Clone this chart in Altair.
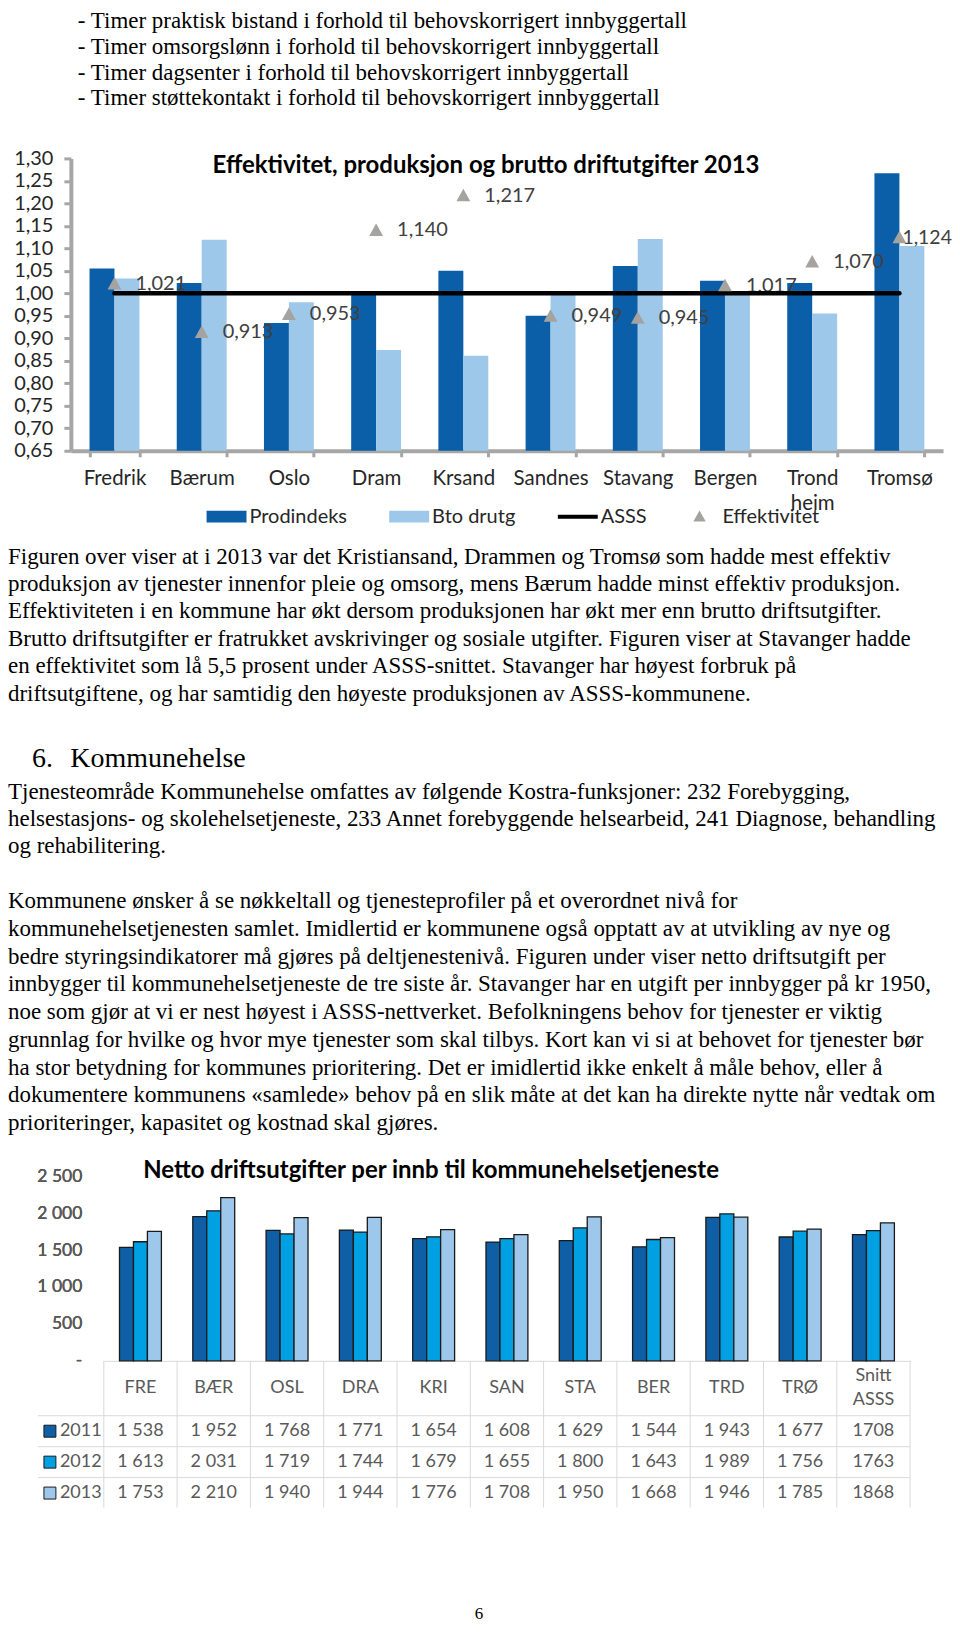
import altair as alt
import pandas as pd

# ---------------- text content ----------------
bullet_lines = [
    "- Timer praktisk bistand i forhold til behovskorrigert innbyggertall",
    "- Timer omsorgslønn i forhold til behovskorrigert innbyggertall",
    "- Timer dagsenter i forhold til behovskorrigert innbyggertall",
    "- Timer støttekontakt i forhold til behovskorrigert innbyggertall",
]
para1_lines = [
    "Figuren over viser at i 2013 var det Kristiansand, Drammen og Tromsø som hadde mest effektiv",
    "produksjon av tjenester innenfor pleie og omsorg, mens Bærum hadde minst effektiv produksjon.",
    "Effektiviteten i en kommune har økt dersom produksjonen har økt mer enn brutto driftsutgifter.",
    "Brutto driftsutgifter er fratrukket avskrivinger og sosiale utgifter. Figuren viser at Stavanger hadde",
    "en effektivitet som lå 5,5 prosent under ASSS-snittet. Stavanger har høyest forbruk på",
    "driftsutgiftene, og har samtidig den høyeste produksjonen av ASSS-kommunene.",
]
heading_num = "6."
heading_text = "Kommunehelse"
para2_lines = [
    "Tjenesteområde Kommunehelse omfattes av følgende Kostra-funksjoner: 232 Forebygging,",
    "helsestasjons- og skolehelsetjeneste, 233 Annet forebyggende helsearbeid, 241 Diagnose, behandling",
    "og rehabilitering.",
]
para3_lines = [
    "Kommunene ønsker å se nøkkeltall og tjenesteprofiler på et overordnet nivå for",
    "kommunehelsetjenesten samlet. Imidlertid er kommunene også opptatt av at utvikling av nye og",
    "bedre styringsindikatorer må gjøres på deltjenestenivå. Figuren under viser netto driftsutgift per",
    "innbygger til kommunehelsetjeneste de tre siste år. Stavanger har en utgift per innbygger på kr 1950,",
    "noe som gjør at vi er nest høyest i ASSS-nettverket. Befolkningens behov for tjenester er viktig",
    "grunnlag for hvilke og hvor mye tjenester som skal tilbys. Kort kan vi si at behovet for tjenester bør",
    "ha stor betydning for kommunes prioritering. Det er imidlertid ikke enkelt å måle behov, eller å",
    "dokumentere kommunens «samlede» behov på en slik måte at det kan ha direkte nytte når vedtak om",
    "prioriteringer, kapasitet og kostnad skal gjøres.",
]
page_number = "6"

# ---------------- chart 1 data ----------------
chart1_title = "Effektivitet, produksjon og brutto driftutgifter 2013"
cities = ["Fredrik", "Bærum", "Oslo", "Dram", "Krsand", "Sandnes", "Stavang",
          "Bergen", "Trond heim", "Tromsø"]
prodindeks = [1.055, 1.023, 0.934, 0.997, 1.050, 0.950, 1.061, 1.028, 1.023, 1.267]
bto_drutg = [1.033, 1.119, 0.980, 0.874, 0.861, 0.997, 1.121, 0.998, 0.955, 1.105]
effektivitet = [1.021, 0.913, 0.953, 1.140, 1.217, 0.949, 0.945, 1.017, 1.070, 1.124]
asss = [1.00, 1.00, 1.00, 1.00, 1.00, 1.00, 1.00, 1.00, 1.00, 1.00]
chart1_y_ticks = [0.65, 0.70, 0.75, 0.80, 0.85, 0.90, 0.95, 1.00,
                  1.05, 1.10, 1.15, 1.20, 1.25, 1.30]
series1 = ["Prodindeks", "Bto drutg", "ASSS", "Effektivitet"]
series1_colors = ["#0b5ea8", "#9dc8ea", "#000000", "#a5a39f"]

# ---------------- chart 2 data ----------------
chart2_title = "Netto driftsutgifter per innb til kommunehelsetjeneste"
kommuner = ["FRE", "BÆR", "OSL", "DRA", "KRI", "SAN", "STA", "BER", "TRD", "TRØ", "Snitt ASSS"]
years = ["2011", "2012", "2013"]
v2011 = [1538, 1952, 1768, 1771, 1654, 1608, 1629, 1544, 1943, 1677, 1708]
v2012 = [1613, 2031, 1719, 1744, 1679, 1655, 1800, 1643, 1989, 1756, 1763]
v2013 = [1753, 2210, 1940, 1944, 1776, 1708, 1950, 1668, 1946, 1785, 1868]
chart2_y_ticks = [0, 500, 1000, 1500, 2000, 2500]
year_colors = ["#0f5fa6", "#00a0e2", "#9dc8eb"]

W = 944
one = alt.Data(values=[{"k": 0}])


def text_block(text, x, y, size, lh=27.0, font="Liberation Serif",
               weight="normal", align="left", color="#000000"):
    return alt.Chart(one).mark_text(
        text=text, align=align, baseline="alphabetic", font=font,
        fontSize=size, fontWeight=weight, lineHeight=lh, color=color
    ).encode(x=alt.value(x), y=alt.value(y))


# ---------------- panel A: bullets ----------------
panelA = alt.layer(
    text_block(bullet_lines, 70, 18.5, 23, lh=25.8)
).properties(width=W, height=112)

# ---------------- panel B: chart 1 ----------------
bars1_df = pd.DataFrame({"city": cities, "prod": prodindeks, "bto": bto_drutg})
eff_df = pd.DataFrame({"city": cities, "series": ["Effektivitet"] * len(cities),
                       "eff": effektivitet})
asss_df = pd.DataFrame({"city": cities, "asss": asss})

x1_scale = alt.Scale(domain=cities, range=[63, 937], paddingInner=0.428, paddingOuter=0.214)
y1_scale = alt.Scale(domain=[0.65, 1.30], range=[330, 37], zero=False, nice=False)
x1_axis = alt.Axis(orient="bottom", offset=-80, domainColor="#a6a6a6", domainWidth=4,
                   tickColor="#a6a6a6", tickWidth=3, tickSize=6, tickBand="extent",
                   labelPadding=12, labelBaseline="top", labelAngle=0, labelOverlap=False,
                   labelFont="Lato", labelFontSize=20.5, labelColor="#262626",
                   labelExpr="split(datum.label, ' ')", labelLineHeight=25, grid=False)
y1_axis = alt.Axis(orient="left", offset=-63, values=chart1_y_ticks, domainColor="#a6a6a6",
                   domainWidth=4, tickColor="#a6a6a6", tickWidth=3, tickSize=7,
                   labelPadding=11, labelFont="Lato", labelFontSize=20, labelColor="#262626",
                   labelExpr="replace(format(datum.value, '.2f'), '.', ',')", grid=False)


def X1():
    return alt.X("city:N", scale=x1_scale, axis=x1_axis, title=None)


def Y1(field):
    return alt.Y(field, scale=y1_scale, axis=y1_axis, title=None)


bars_prod = alt.Chart(bars1_df).mark_bar(width=25, xOffset=-12.5, color=series1_colors[0]).encode(
    x=X1(), y=Y1("prod:Q"), y2=alt.datum(0.65))
bars_bto = alt.Chart(bars1_df).mark_bar(width=25, xOffset=12.5, color=series1_colors[1]).encode(
    x=X1(), y=Y1("bto:Q"), y2=alt.datum(0.65))

lab_expr = "replace(format(datum.eff, '.3f'), '.', ',')"
labels1 = alt.Chart(eff_df).transform_filter(
    "datum.city != 'Tromsø'"
).transform_calculate(lab=lab_expr).mark_text(
    align="left", baseline="middle", dx=21, font="Lato", fontSize=20, color="#404040"
).encode(x=X1(), y=Y1("eff:Q"), text="lab:N")
labels1_last = alt.Chart(eff_df).transform_filter(
    "datum.city == 'Tromsø'"
).transform_calculate(lab=lab_expr).mark_text(
    align="left", baseline="middle", dx=3, font="Lato", fontSize=19.5, color="#404040"
).encode(x=X1(), y=Y1("eff:Q"), text="lab:N")
line1 = alt.Chart(asss_df).mark_line(color="#000000", strokeWidth=4.5, strokeCap="round").encode(
    x=X1(), y=Y1("asss:Q"))

rect_path = "M-2,-0.6H2V0.6H-2Z"
line_path = "M-2,-0.2H2V0.2H-2Z"
tri_path = "M0,-0.62L0.62,0.5L-0.62,0.5Z"
leg1 = alt.Legend(orient="none", legendX=209, legendY=386, direction="horizontal", columns=4,
                  columnPadding=42, labelOffset=13, symbolSize=400, symbolStrokeWidth=0,
                  padding=0, title=None, labelFont="Lato", labelFontSize=20,
                  labelColor="#262626", symbolOpacity=1)
points1 = alt.Chart(eff_df).mark_point(filled=True, size=500, opacity=1).encode(
    x=X1(), y=Y1("eff:Q"),
    color=alt.Color("series:N", scale=alt.Scale(domain=series1, range=series1_colors), legend=leg1),
    shape=alt.Shape("series:N", scale=alt.Scale(domain=series1,
                                                range=[rect_path, rect_path, line_path, tri_path]),
                    legend=leg1),
)
title1 = text_block(chart1_title, 479, 51.7, 24, font="Lato", weight="bold", align="center")

panelB = alt.layer(bars_prod, bars_bto, labels1, labels1_last, line1, points1, title1).properties(
    width=W, height=410)

# ---------------- panel C: text ----------------
panelC = alt.layer(
    text_block(para1_lines, 0, 33, 23, lh=27.5),
    text_block(heading_num, 24, 236.7, 28),
    text_block(heading_text, 62.5, 236.7, 28),
    text_block(para2_lines, 0, 268.5, 23, lh=27.2),
    text_block(para3_lines, 0, 378.4, 23, lh=27.8),
).properties(width=W, height=610)

# ---------------- panel D: chart 2 + table ----------------
long_rows = []
for yr, vals in zip(years, [v2011, v2012, v2013]):
    for k, v in zip(kommuner, vals):
        long_rows.append({"kommune": k, "year": yr, "value": v})
long_df = pd.DataFrame(long_rows)

x2_scale = alt.Scale(domain=kommuner, range=[96, 904], paddingInner=0, paddingOuter=0)
y2_scale = alt.Scale(domain=[0, 2500], range=[222, 37], nice=False, zero=True)
ty_scale = alt.Scale(domain=years, range=[277, 370], paddingInner=0, paddingOuter=0)
c2_scale = alt.Scale(domain=years, range=year_colors)
x2_axis = alt.Axis(
    orient="bottom", offset=-153, domainColor="#d9d9d9", domainWidth=1,
    ticks=False, labelPadding=27, labelBaseline="middle", labelAngle=0,
    labelOverlap=False, labelFont="Lato", labelFontSize=18, labelColor="#595959",
    labelExpr="indexof(datum.label, ' ') >= 0 ? '' : datum.label", grid=False)
y2_axis = alt.Axis(orient="left", offset=-80, values=chart2_y_ticks, ticks=False, domain=False,
                   labelPadding=6, labelFont="Lato", labelFontSize=17.5, labelColor="#595959",
                   labelExpr="datum.value == 0 ? '-' : replace(format(datum.value, ','), ',', ' ')",
                   grid=False)


def X2(**kw):
    return alt.X("kommune:N", scale=x2_scale, axis=x2_axis, title=None, **kw)


bar_layers2 = []
for yr, off in zip(years, [-14, 0, 14]):
    bar_layers2.append(
        alt.Chart(long_df).transform_filter(f"datum.year == '{yr}'").mark_bar(
            width=14, xOffset=off, stroke="#1a1a1a", strokeWidth=1.3
        ).encode(
            x=X2(),
            y=alt.Y("value:Q", scale=y2_scale, axis=y2_axis, title=None),
            color=alt.Color("year:N", scale=c2_scale, legend=None),
        )
    )

# two-line header for the last column (same font as the axis labels)
header_last = alt.Chart(pd.DataFrame({"kommune": kommuner[-1:]})).mark_text(
    text=kommuner[-1].split(" "), lineHeight=24, baseline="middle", align="center",
    font="Lato", fontSize=18, color="#595959"
).encode(x=X2(), y=alt.value(237))

kom_df = pd.DataFrame({"kommune": kommuner})
vrules = alt.Chart(kom_df).mark_rule(color="#d9d9d9", strokeWidth=1).encode(
    x=X2(bandPosition=0), y=alt.value(222), y2=alt.value(369))
vrule_last = alt.Chart(pd.DataFrame({"kommune": kommuner[-1:]})).mark_rule(
    color="#d9d9d9", strokeWidth=1).encode(
    x=X2(bandPosition=1), y=alt.value(222), y2=alt.value(369))
yr_df = pd.DataFrame({"year": years})
hrules = alt.Chart(yr_df).mark_rule(color="#d9d9d9", strokeWidth=1).encode(
    y=alt.Y("year:N", bandPosition=0, scale=ty_scale, axis=None, title=None),
    x=alt.value(30), x2=alt.value(904))
cells = alt.Chart(long_df).transform_calculate(
    lab="datum.kommune == 'Snitt ASSS' ? toString(datum.value) : replace(format(datum.value, ','), ',', ' ')"
).mark_text(font="Lato", fontSize=18, color="#595959", baseline="middle", align="center").encode(
    x=X2(), y=alt.Y("year:N", scale=ty_scale, axis=None, title=None), text="lab:N")
rowlab = alt.Chart(yr_df).mark_text(font="Lato", fontSize=18, color="#595959",
                                    baseline="middle", align="left").encode(
    x=alt.value(52), y=alt.Y("year:N", scale=ty_scale, axis=None, title=None), text="year:N")
squares = alt.Chart(yr_df).mark_square(size=144, filled=True, stroke="#1a1a1a",
                                       strokeWidth=1, opacity=1).encode(
    x=alt.value(42), y=alt.Y("year:N", scale=ty_scale, axis=None, title=None),
    color=alt.Color("year:N", scale=c2_scale, legend=None))
title2 = text_block(chart2_title, 424, 39, 24, font="Lato", weight="bold", align="center")

panelD = alt.layer(*bar_layers2, header_last, vrules, vrule_last, hrules, cells, rowlab, squares,
                   title2).resolve_scale(y="independent").properties(width=W, height=375)

# ---------------- panel E: page number ----------------
panelE = alt.layer(
    text_block(page_number, 472, 106, 17, align="center")
).properties(width=W, height=110)

chart = alt.vconcat(panelA, panelB, panelC, panelD, panelE, spacing=0).resolve_scale(
    color="independent", shape="independent"
).resolve_legend(
    color="independent", shape="independent"
).properties(
    padding=0, background="white"
).configure_view(strokeWidth=0)

chart.save("out.html", embed_options={"renderer": "svg", "actions": False})
